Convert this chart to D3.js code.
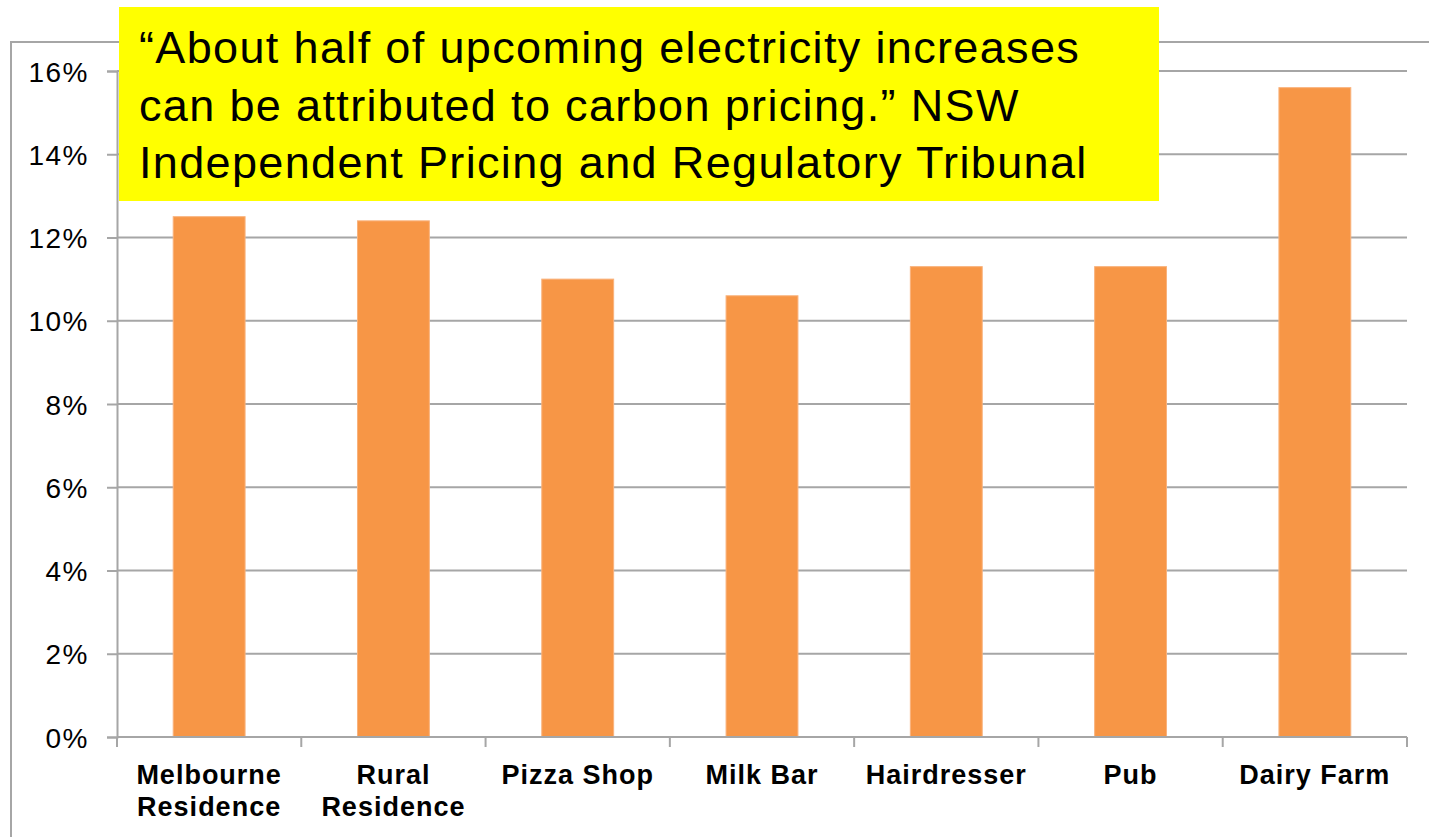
<!DOCTYPE html>
<html>
<head>
<meta charset="utf-8">
<script src="https://cdn.jsdelivr.net/npm/d3@7"></script>
<style>
  body { margin: 0; background: #fff; }
  svg { display: block; }
</style>
</head>
<body>
<svg id="chart"></svg>
<script>
// data
const categories = [
  ["Melbourne", "Residence"],
  ["Rural", "Residence"],
  ["Pizza Shop"],
  ["Milk Bar"],
  ["Hairdresser"],
  ["Pub"],
  ["Dairy Farm"]
];
const values = [0.125, 0.124, 0.110, 0.106, 0.113, 0.113, 0.156];
const yTicks = [0, 0.02, 0.04, 0.06, 0.08, 0.10, 0.12, 0.14, 0.16];
const quoteLines = [
  "\u201CAbout half of upcoming electricity increases",
  "can be attributed to carbon pricing.\u201D NSW",
  "Independent Pricing and Regulatory Tribunal"
];

const width = 1429, height = 837;
const margin = { top: 71, right: 22, bottom: 100, left: 117 };

const svg = d3.select("#chart").attr("width", width).attr("height", height);

// outer frame
svg.append("rect")
  .attr("x", 11).attr("y", 42)
  .attr("width", width + 20).attr("height", height)
  .attr("fill", "none")
  .attr("stroke", "#a6a6a6")
  .attr("stroke-width", 2);

const x = d3.scaleBand()
  .domain(d3.range(categories.length))
  .range([margin.left, width - margin.right])
  .paddingInner(0.61)
  .paddingOuter(0.305);

const y = d3.scaleLinear()
  .domain([0, 0.16])
  .range([height - margin.bottom, margin.top]);

// gridlines
svg.append("g")
  .selectAll("line")
  .data(yTicks.slice(1))
  .join("line")
  .attr("x1", margin.left).attr("x2", width - margin.right)
  .attr("y1", d => y(d)).attr("y2", d => y(d))
  .attr("stroke", "#a6a6a6")
  .attr("stroke-width", 2);

// bars
svg.append("g")
  .selectAll("rect")
  .data(values)
  .join("rect")
  .attr("x", (d, i) => x(i))
  .attr("width", x.bandwidth())
  .attr("y", d => y(d))
  .attr("height", d => y(0) - y(d))
  .attr("fill", "#f79646")
  .attr("stroke", "#f9b27c")
  .attr("stroke-width", 1);

// y axis
const yAxis = svg.append("g")
  .attr("transform", "translate(" + margin.left + ",0)")
  .call(d3.axisLeft(y).tickValues(yTicks).tickFormat(d3.format(".0%")).tickSize(10).tickPadding(18));
yAxis.select(".domain").attr("stroke", "#a6a6a6").attr("stroke-width", 2);
yAxis.selectAll(".tick line").attr("stroke", "#a6a6a6").attr("stroke-width", 2);
yAxis.selectAll(".tick text")
  .attr("font-family", "Arial, 'Liberation Sans', sans-serif")
  .attr("font-size", 28)
  .attr("letter-spacing", 1.5)
  .attr("fill", "#000")
  .attr("dy", "0.36em");

// x axis: ticks at category boundaries
const step = x.step();
const bounds = d3.range(categories.length + 1).map(i => margin.left + i * step);
const xAxis = svg.append("g");
xAxis.append("line")
  .attr("x1", margin.left).attr("x2", width - margin.right)
  .attr("y1", y(0)).attr("y2", y(0))
  .attr("stroke", "#a6a6a6").attr("stroke-width", 2);
xAxis.selectAll("line.tk")
  .data(bounds)
  .join("line")
  .attr("class", "tk")
  .attr("x1", d => d).attr("x2", d => d)
  .attr("y1", y(0)).attr("y2", y(0) + 10)
  .attr("stroke", "#a6a6a6").attr("stroke-width", 2);

const labels = xAxis.selectAll("text")
  .data(categories)
  .join("text")
  .attr("x", (d, i) => x(i) + x.bandwidth() / 2)
  .attr("y", y(0) + 47)
  .attr("text-anchor", "middle")
  .attr("font-family", "Arial, 'Liberation Sans', sans-serif")
  .attr("font-weight", "bold")
  .attr("font-size", 27)
  .attr("letter-spacing", 1);
labels.selectAll("tspan")
  .data(d => d)
  .join("tspan")
  .attr("x", function () { return this.parentNode.getAttribute("x"); })
  .attr("dy", (d, i) => i ? 32 : 0)
  .text(d => d);

// quote box
svg.append("rect")
  .attr("x", 119).attr("y", 7)
  .attr("width", 1040).attr("height", 194)
  .attr("fill", "#ffff00");
svg.append("g")
  .selectAll("text")
  .data(quoteLines)
  .join("text")
  .attr("x", 139)
  .attr("y", (d, i) => 63 + i * 57.5)
  .attr("font-family", "Arial, 'Liberation Sans', sans-serif")
  .attr("font-size", 45)
  .attr("letter-spacing", 1.35)
  .attr("fill", "#000")
  .text(d => d);
</script>
</body>
</html>
